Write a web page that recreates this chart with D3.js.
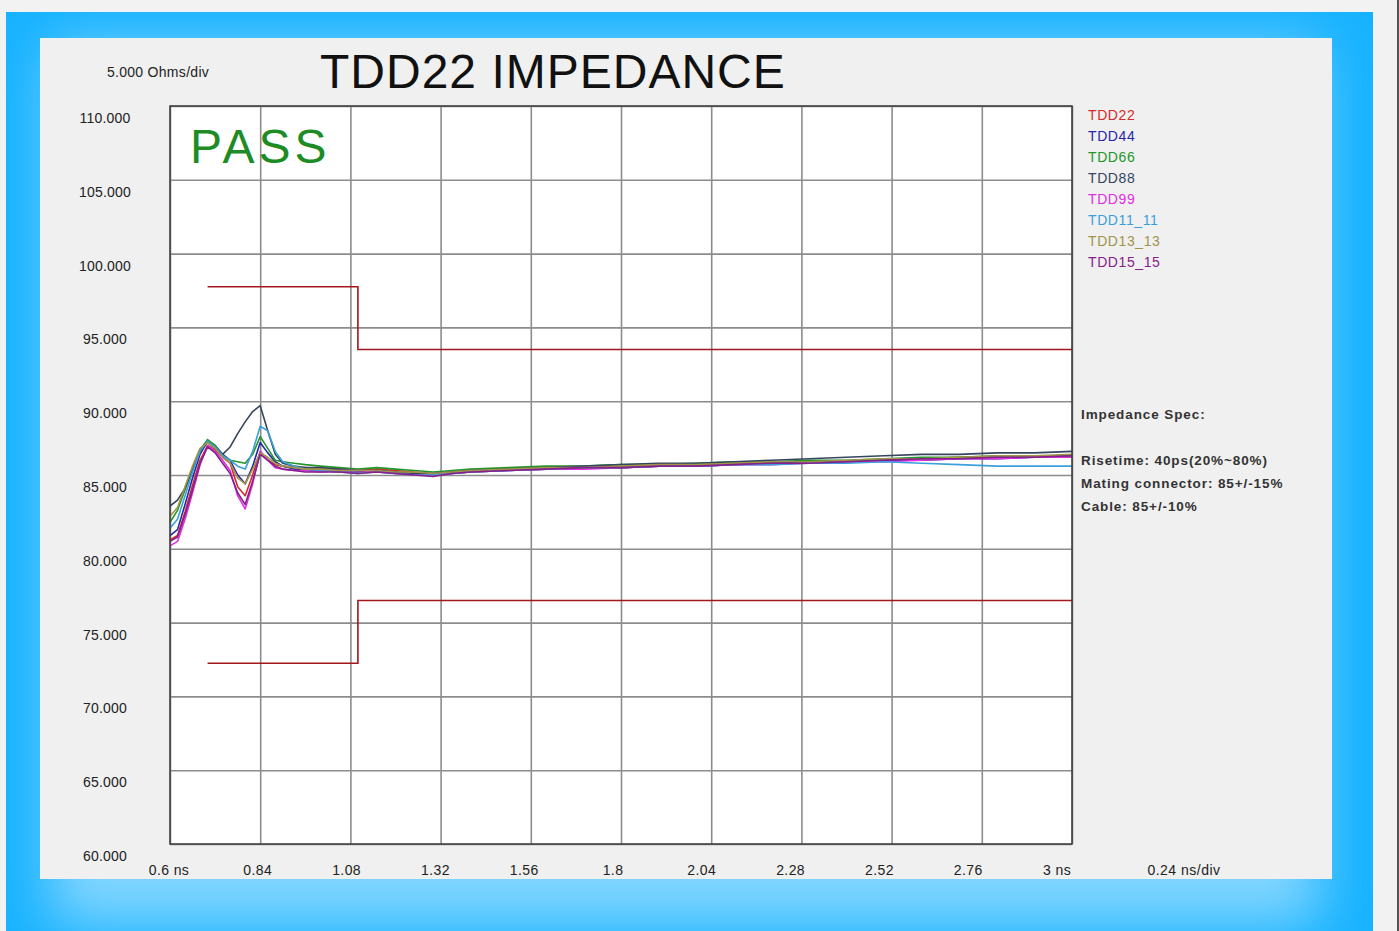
<!DOCTYPE html>
<html lang="en">
<head>
    <meta charset="UTF-8">
    <title>TDD22 IMPEDANCE</title>
    <style>
        body { margin: 0; background: #f2f2f2; }
        svg { display: block; font-family: "Liberation Sans", Arial, sans-serif; }
    </style>
</head>
<body>
    <div id="chart"></div>

    <script src="https://d3js.org/d3.v7.min.js"></script>

    <script>
        // time samples (ns)
        const times = [0.60, 0.62, 0.64, 0.66, 0.68, 0.70, 0.72, 0.74, 0.76, 0.78, 0.80, 0.82, 0.84, 0.86, 0.88,
                       0.90, 0.93, 0.96, 1.00, 1.05, 1.10, 1.15, 1.20, 1.25, 1.30, 1.35, 1.40, 1.50, 1.60, 1.70,
                       1.80, 1.90, 2.00, 2.10, 2.20, 2.30, 2.40, 2.50, 2.60, 2.70, 2.80, 2.90, 3.00];

        // impedance per pair (Ohms)
        const tdd22 = [80.6, 80.9, 82.5, 84.3, 86.0, 87.0, 86.7, 86.2, 85.8, 84.2, 83.6, 85.0, 86.6, 86.0, 85.7,
                       85.6, 85.5, 85.5, 85.4, 85.4, 85.3, 85.4, 85.3, 85.2, 85.1, 85.2, 85.3, 85.4, 85.5, 85.5,
                       85.5, 85.6, 85.7, 85.8, 85.8, 85.9, 85.9, 86.0, 86.1, 86.2, 86.2, 86.2, 86.3];
        const tdd44 = [80.9, 81.3, 83.0, 84.8, 86.4, 87.3, 87.0, 86.4, 86.0, 85.0, 84.4, 85.6, 87.2, 86.5, 85.9,
                       85.6, 85.4, 85.3, 85.3, 85.2, 85.2, 85.3, 85.2, 85.0, 85.0, 85.1, 85.2, 85.3, 85.4, 85.5,
                       85.5, 85.6, 85.6, 85.7, 85.8, 85.9, 85.9, 86.0, 86.0, 86.1, 86.1, 86.2, 86.2];
        const tdd66 = [81.8, 82.6, 84.0, 85.4, 86.7, 87.4, 87.0, 86.3, 86.0, 85.9, 85.8, 86.4, 87.6, 86.8, 86.0,
                       85.9, 85.8, 85.7, 85.6, 85.5, 85.4, 85.5, 85.4, 85.3, 85.2, 85.3, 85.4, 85.5, 85.6, 85.6,
                       85.7, 85.7, 85.8, 85.9, 85.9, 86.0, 86.0, 86.1, 86.2, 86.2, 86.3, 86.3, 86.3];
        const tdd88 = [82.9, 83.3, 84.1, 85.4, 86.6, 87.2, 86.8, 86.4, 86.9, 87.8, 88.6, 89.3, 89.7, 88.0, 86.4,
                       85.8, 85.6, 85.5, 85.5, 85.4, 85.3, 85.3, 85.2, 85.1, 85.1, 85.2, 85.3, 85.4, 85.5, 85.6,
                       85.7, 85.8, 85.8, 85.9, 86.0, 86.1, 86.2, 86.3, 86.4, 86.4, 86.5, 86.5, 86.6];
        const tdd99 = [80.2, 80.5, 82.0, 83.8, 85.7, 87.0, 86.6, 86.0, 85.3, 83.6, 82.7, 84.4, 86.6, 86.0, 85.5,
                       85.4, 85.3, 85.3, 85.2, 85.3, 85.3, 85.2, 85.1, 85.0, 85.0, 85.1, 85.2, 85.3, 85.4, 85.4,
                       85.5, 85.6, 85.6, 85.7, 85.7, 85.8, 85.9, 85.9, 86.0, 86.1, 86.1, 86.2, 86.2];
        const tdd11 = [81.4, 82.0, 83.6, 85.2, 86.6, 87.3, 86.9, 86.3, 86.0, 85.6, 85.4, 86.6, 88.3, 88.0, 86.6,
                       85.9, 85.6, 85.4, 85.3, 85.2, 85.1, 85.2, 85.1, 85.0, 85.0, 85.1, 85.2, 85.3, 85.4, 85.5,
                       85.5, 85.6, 85.6, 85.7, 85.7, 85.8, 85.8, 85.9, 85.8, 85.7, 85.6, 85.6, 85.6];
        const tdd13 = [82.2, 82.8, 84.2, 85.6, 86.8, 87.2, 86.8, 86.2, 85.8, 84.8, 84.4, 85.4, 86.5, 86.2, 85.8,
                       85.6, 85.5, 85.4, 85.4, 85.3, 85.3, 85.3, 85.2, 85.2, 85.1, 85.2, 85.3, 85.4, 85.5, 85.5,
                       85.6, 85.7, 85.7, 85.8, 85.9, 85.9, 86.0, 86.1, 86.1, 86.2, 86.3, 86.3, 86.4];
        const tdd15 = [80.5, 80.8, 82.3, 84.0, 85.8, 86.9, 86.5, 85.8, 85.1, 83.8, 83.0, 84.6, 86.4, 86.0, 85.6,
                       85.4, 85.3, 85.2, 85.2, 85.2, 85.1, 85.2, 85.1, 85.0, 84.9, 85.1, 85.2, 85.3, 85.4, 85.5,
                       85.5, 85.6, 85.6, 85.7, 85.8, 85.8, 85.9, 86.0, 86.1, 86.1, 86.2, 86.2, 86.3];

        const seriesNames = ["TDD22", "TDD44", "TDD66", "TDD88", "TDD99", "TDD11_11", "TDD13_13", "TDD15_15"];
        const seriesValues = [tdd22, tdd44, tdd66, tdd88, tdd99, tdd11, tdd13, tdd15];
        const seriesColors = ["#d42a2a", "#2626a8", "#22962a", "#34455e", "#e02ee0", "#3aa0dc", "#a09448", "#86208a"];

        // spec limit lines (step after)
        const limitTimes = [0.70, 1.10, 3.00];
        const upperLimit = [97.75, 93.5, 93.5];
        const lowerLimit = [72.25, 76.5, 76.5];

        // axes
        const xTicks = [0.6, 0.84, 1.08, 1.32, 1.56, 1.8, 2.04, 2.28, 2.52, 2.76, 3.0];
        const xTickLabels = ["0.6 ns", "0.84", "1.08", "1.32", "1.56", "1.8", "2.04", "2.28", "2.52", "2.76", "3 ns"];
        const yTicks = [60, 65, 70, 75, 80, 85, 90, 95, 100, 105, 110];
        const yTickLabels = ["60.000", "65.000", "70.000", "75.000", "80.000", "85.000", "90.000", "95.000", "100.000", "105.000", "110.000"];

        const specLines = ["Impedance Spec:", "", "Risetime: 40ps(20%~80%)", "Mating connector: 85+/-15%", "Cable: 85+/-10%"];

        const W = 1399, H = 931;
        const plot = { left: 170, top: 106, right: 1072, bottom: 844 };

        const svg = d3.select("#chart").append("svg")
            .attr("width", W)
            .attr("height", H);

        // blue frame with a soft light glow around the panel
        const defs = svg.append("defs");
        defs.append("filter").attr("id", "glow")
            .attr("x", "-10%").attr("y", "-10%").attr("width", "120%").attr("height", "120%")
            .append("feGaussianBlur").attr("stdDeviation", 28);
        defs.append("clipPath").attr("id", "frameClip")
            .append("rect").attr("x", 6).attr("y", 12).attr("width", 1367).attr("height", 930);

        const frame = svg.append("g").attr("clip-path", "url(#frameClip)");
        frame.append("rect").attr("x", 6).attr("y", 12).attr("width", 1367).attr("height", 930)
            .attr("fill", "#17b2ff");
        frame.append("rect").attr("x", 50).attr("y", 45).attr("width", 1270).attr("height", 880)
            .attr("fill", "#82d6ff")
            .attr("filter", "url(#glow)");
        svg.append("rect").attr("x", 1397).attr("y", 0).attr("width", 2).attr("height", H)
            .attr("fill", "#555");

        // gray panel
        svg.append("rect").attr("x", 40).attr("y", 38).attr("width", 1292).attr("height", 841)
            .attr("fill", "#f0f0f0");

        const x = d3.scaleLinear().domain([0.6, 3.0]).range([plot.left, plot.right]);
        const y = d3.scaleLinear().domain([60, 110]).range([plot.bottom, plot.top]);
        // the tick labels sit on a slightly narrower pitch than the grid
        const xLabel = d3.scaleLinear().domain([0.6, 3.0]).range([169, 1057]);

        svg.append("rect")
            .attr("x", plot.left).attr("y", plot.top)
            .attr("width", plot.right - plot.left).attr("height", plot.bottom - plot.top)
            .attr("fill", "#ffffff");

        // grid
        svg.append("g")
            .attr("transform", `translate(0,${plot.bottom})`)
            .call(d3.axisBottom(x).tickValues(xTicks).tickSize(-(plot.bottom - plot.top)).tickFormat(""))
            .call(g => g.select(".domain").remove())
            .call(g => g.selectAll("line").attr("stroke", "#8c8c8c").attr("stroke-width", 1.6));

        svg.append("g")
            .attr("transform", `translate(${plot.left},0)`)
            .call(d3.axisLeft(y).tickValues(yTicks).tickSize(-(plot.right - plot.left)).tickFormat(""))
            .call(g => g.select(".domain").remove())
            .call(g => g.selectAll("line").attr("stroke", "#8c8c8c").attr("stroke-width", 1.6));

        // tick labels
        svg.append("g").selectAll("text")
            .data(yTicks)
            .join("text")
            .attr("x", 105)
            .attr("y", d => y(d) + 17)
            .attr("text-anchor", "middle")
            .attr("font-size", 14)
            .attr("fill", "#222")
            .attr("letter-spacing", 0.2)
            .text((d, i) => yTickLabels[i]);

        svg.append("g").selectAll("text")
            .data(xTicks)
            .join("text")
            .attr("x", d => xLabel(d))
            .attr("y", 875)
            .attr("text-anchor", "middle")
            .attr("font-size", 14)
            .attr("fill", "#222")
            .attr("letter-spacing", 0.4)
            .text((d, i) => xTickLabels[i]);

        svg.append("text").attr("x", 1184).attr("y", 875).attr("text-anchor", "middle")
            .attr("font-size", 14).attr("fill", "#222").attr("letter-spacing", 0.5)
            .text("0.24 ns/div");
        svg.append("text").attr("x", 158).attr("y", 77).attr("text-anchor", "middle")
            .attr("font-size", 14).attr("fill", "#222").attr("letter-spacing", 0.3)
            .text("5.000 Ohms/div");

        // limit lines
        const limitLine = d3.line()
            .x((d, i) => x(limitTimes[i]))
            .y(d => y(d))
            .curve(d3.curveStepAfter);

        [upperLimit, lowerLimit].forEach(lim => {
            svg.append("path")
                .attr("d", limitLine(lim))
                .attr("fill", "none")
                .attr("stroke", "#a3161c")
                .attr("stroke-width", 1.6);
        });

        // measured curves
        const line = d3.line()
            .x((d, i) => x(times[i]))
            .y(d => y(d));

        svg.append("g").selectAll("path")
            .data(seriesValues)
            .join("path")
            .attr("d", d => line(d))
            .attr("fill", "none")
            .attr("stroke", (d, i) => seriesColors[i])
            .attr("stroke-width", 1.6)
            .attr("stroke-linejoin", "round");

        // plot frame
        svg.append("rect")
            .attr("x", plot.left).attr("y", plot.top)
            .attr("width", plot.right - plot.left).attr("height", plot.bottom - plot.top)
            .attr("fill", "none")
            .attr("stroke", "#3a3a3a")
            .attr("stroke-width", 1.5);

        // titles
        svg.append("text").attr("x", 320).attr("y", 88)
            .attr("font-size", 48).attr("fill", "#111").attr("letter-spacing", 1)
            .text("TDD22 IMPEDANCE");
        svg.append("text").attr("x", 190).attr("y", 163)
            .attr("font-size", 48).attr("fill", "#1e8c24").attr("letter-spacing", 4)
            .text("PASS");

        // legend
        svg.append("g").selectAll("text")
            .data(seriesNames)
            .join("text")
            .attr("x", 1088)
            .attr("y", (d, i) => 120 + i * 21)
            .attr("font-size", 14)
            .attr("letter-spacing", 0.6)
            .attr("fill", (d, i) => seriesColors[i])
            .text(d => d);

        // spec notes
        svg.append("g").selectAll("text")
            .data(specLines)
            .join("text")
            .attr("x", 1081)
            .attr("y", (d, i) => 419 + i * 23)
            .attr("font-size", 13.5)
            .attr("font-weight", "bold")
            .attr("letter-spacing", 0.9)
            .attr("fill", "#333")
            .text(d => d);
    </script>
</body>
</html>
